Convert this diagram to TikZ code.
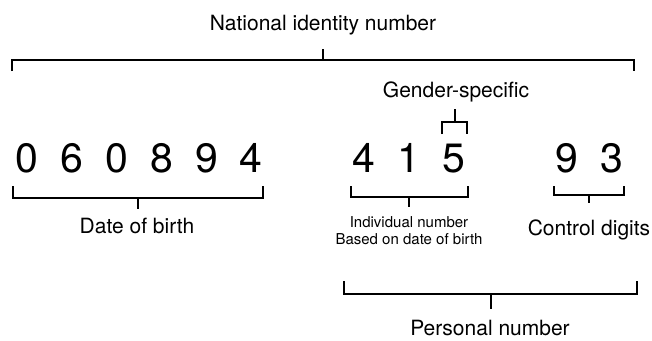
\documentclass[tikz,border=0pt]{standalone}
\usepackage{fontspec}
\setmainfont{TeX Gyre Heros}

\begin{document}
\begin{tikzpicture}[
  x=1pt, y=-1pt,
  digit/.style={font=\fontsize{41}{41}\selectfont, anchor=base, inner sep=0pt},
  lbl/.style={font=\fontsize{21}{25}\selectfont, anchor=base, inner sep=0pt},
  note/.style={font=\fontsize{15}{18}\selectfont, anchor=base, inner sep=0pt},
  brk/.style={line width=1.5pt},
]
\useasboundingbox (0,0) rectangle (652,340);

% the digits
\foreach \d/\x [count=\i] in {0/27, 6/72, 0/117, 8/162, 9/207, 4/251}
  \node [digit] (dob\i) at (\x,172) {\d};
\foreach \d/\x [count=\i] in {4/364, 1/409, 5/454}
  \node [digit] (ind\i) at (\x,172) {\d};
\foreach \d/\x [count=\i] in {9/567, 3/612}
  \node [digit] (ctl\i) at (\x,172) {\d};

% labels
\node [lbl] (nin) at (323,30) {National identity number};
\node [lbl] (gen) at (456,97) {Gender-specific};
\node [lbl] (dob) at (137,233) {Date of birth};
\node [note] (ind) at (409,227) {Individual number};
\node [note] (bas) at (409,244) {Based on date of birth};
\node [lbl] (ctl) at (589,235) {Control digits};
\node [lbl] (pers) at (490,335) {Personal number};

% brackets
\coordinate (nin-t) at (323,49);
\coordinate (gen-t) at (455,109);
\coordinate (dob-t) at (138,209);
\coordinate (ind-t) at (409,207);
\coordinate (ctl-t) at (589,203);
\coordinate (pers-t) at (491,309);

\draw [brk] (12,71) |- (323,60) -| (634,71);
\draw [brk] (323,60) -- (nin-t);
\draw [brk] (442,134) |- (455,122) -| (467,134);
\draw [brk] (455,122) -- (gen-t);
\draw [brk] (13,186) |- (138,198) -| (263,186);
\draw [brk] (138,198) -- (dob-t);
\draw [brk] (351,186) |- (409,197) -| (468,186);
\draw [brk] (409,197) -- (ind-t);
\draw [brk] (554,186) |- (589,195) -| (624,186);
\draw [brk] (589,195) -- (ctl-t);
\draw [brk] (344,281) |- (491,294) -| (637,281);
\draw [brk] (491,294) -- (pers-t);

\end{tikzpicture}
\end{document}
